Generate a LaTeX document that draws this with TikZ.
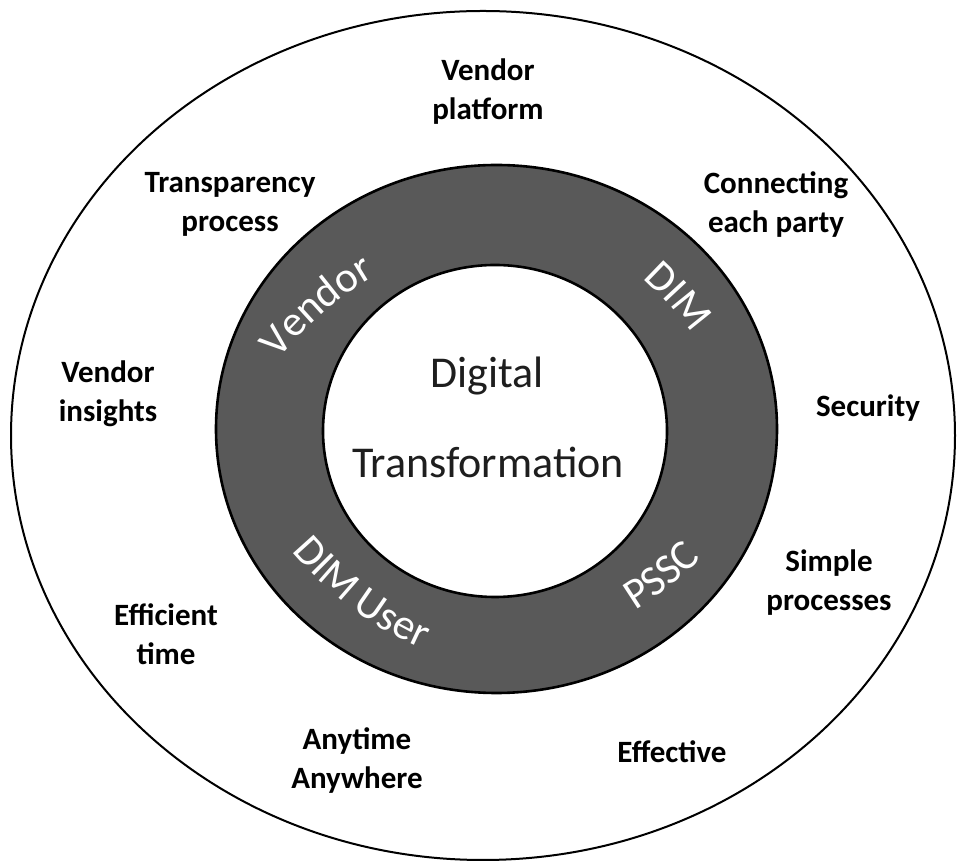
\documentclass[tikz,border=0pt]{standalone}
\usepackage{fontspec}
\setmainfont{Carlito}
\usetikzlibrary{decorations.text}
\definecolor{ringgray}{HTML}{595959}
\definecolor{centertext}{HTML}{1E1E1E}
\begin{document}
\begin{tikzpicture}[x=1pt,y=1pt,
  outlbl/.style={font=\fontsize{31}{39}\selectfont\bfseries, align=center, inner sep=0pt},
  centerlbl/.style={font=\fontsize{44}{52}\selectfont, text=centertext, inner sep=0pt, anchor=base},
  ringlbl/.style={decorate, decoration={text along path, text align=center,
      text={|\fontsize{43}{50}\selectfont\color{white}|#1}}}
]
\useasboundingbox (0,0) rectangle (962,865);
\fill[white] (0,0) rectangle (962,865);

% outer ellipse
\draw[line width=2pt] (483,429.5) ellipse[x radius=472, y radius=424.5];

% dark ring
\fill[ringgray, even odd rule] (496.5,436) ellipse[x radius=280.5, y radius=264]
  (495,434) ellipse[x radius=172, y radius=166];
\draw[line width=2.6pt] (496.5,436) ellipse[x radius=280.5, y radius=264];
\draw[line width=2.6pt] (495,434) ellipse[x radius=172, y radius=166];

% centre text
\node[centerlbl] (digital) at (487,477) {Digital};
\node[centerlbl] (transf) at (488,387) {Transformation};

% ring labels (arched text)
\coordinate (cV) at (544.6,296.8);
\coordinate (cD) at (418,334.8);
\coordinate (cU) at (568.7,546.7);
\coordinate (cP) at (446.4,564.8);
\path[ringlbl={Vendor}] ([shift={(161:338)}]cV) arc[start angle=161, end angle=101, radius=338];
\path[ringlbl={DIM}] ([shift={(72:337)}]cD) arc[start angle=72, end angle=12, radius=337];
\path[ringlbl={DIM User}] ([shift={(-157:362)}]cU) arc[start angle=-157, end angle=-97, radius=362];
\path[ringlbl={PSSC}] ([shift={(-82:363)}]cP) arc[start angle=-82, end angle=-22, radius=363];

% outer labels
\node[outlbl] (vp) at (488,773) {Vendor\\platform};
\node[outlbl] (tp) at (230,661) {Transparency\\process};
\node[outlbl] (cp) at (776,660) {Connecting\\each party};
\node[outlbl] (vi) at (108,471) {Vendor\\insights};
\node[outlbl] (sec) at (868,457) {Security};
\node[outlbl] (sp) at (829,282) {Simple\\processes};
\node[outlbl] (et) at (166,231) {Efficient\\time};
\node[outlbl] (aa) at (357,104) {Anytime\\Anywhere};
\node[outlbl] (eff) at (672,113) {Effective};
\end{tikzpicture}
\end{document}
